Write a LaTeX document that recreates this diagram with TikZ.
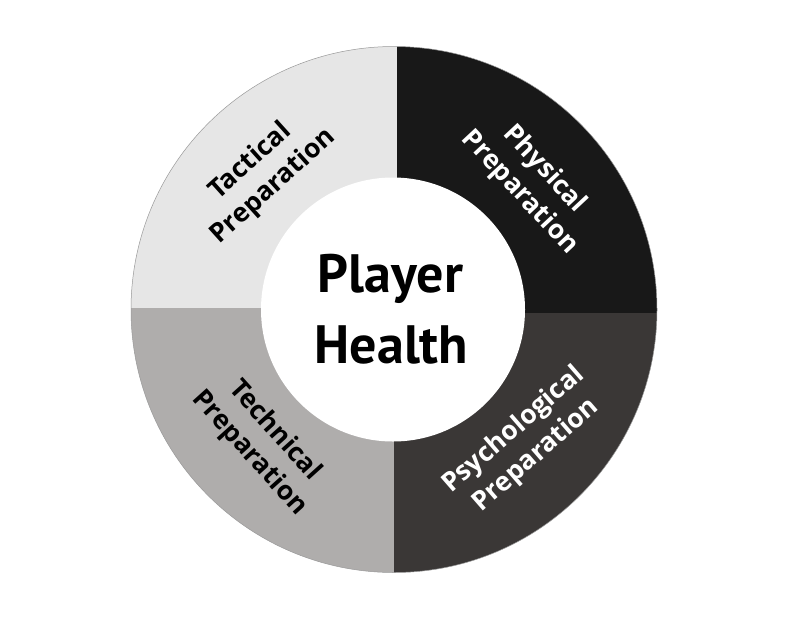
\documentclass[tikz,border=0pt]{standalone}
\usepackage{fontspec}
\setmainfont{PT Sans}
\newfontfamily\osb{Open Sans}
\definecolor{qtl}{RGB}{230,230,230}
\definecolor{qtr}{RGB}{24,24,24}
\definecolor{qbr}{RGB}{58,55,54}
\definecolor{qbl}{RGB}{175,173,172}
\tikzset{
  biglabel/.style={font=\bfseries\fontsize{54}{71}\selectfont, anchor=base, inner sep=0pt, text=black},
  seglabel/.style={font=\osb\bfseries\fontsize{26.5}{34}\selectfont, align=center, inner sep=0pt},
}
\begin{document}
\begin{tikzpicture}[x=1pt,y=-1pt]
\useasboundingbox (0,0) rectangle (800,619);
\fill[white] (0,0) rectangle (800,619);
\begin{scope}
  \clip (394,309.5) circle (263);
  \fill[qtl] (100,0) rectangle (397,308);
  \fill[qtr] (397,0) rectangle (700,313);
  \fill[qbr] (394,313) rectangle (700,620);
  \fill[qbl] (100,308) rectangle (394,620);
\end{scope}
\draw[gray!80, line width=0.5pt] (394,309.5) circle (263);
\fill[white] (393,309.5) circle (132);
\node[biglabel] (player) at (390.5,292) {Player};
\node[biglabel] (health) at (391.5,363) {Health};
\node[seglabel, text=black, rotate=42] (tactical) at (262,174) {Tactical\\Preparation};
\node[seglabel, text=white, rotate=-47] (physical) at (532,181) {Physical\\Preparation};
\node[seglabel, text=white, rotate=41] (psych) at (525,443) {Psychological\\Preparation};
\node[seglabel, text=black, rotate=-48] (technical) at (262,442) {Technical\\Preparation};
\end{tikzpicture}
\end{document}
